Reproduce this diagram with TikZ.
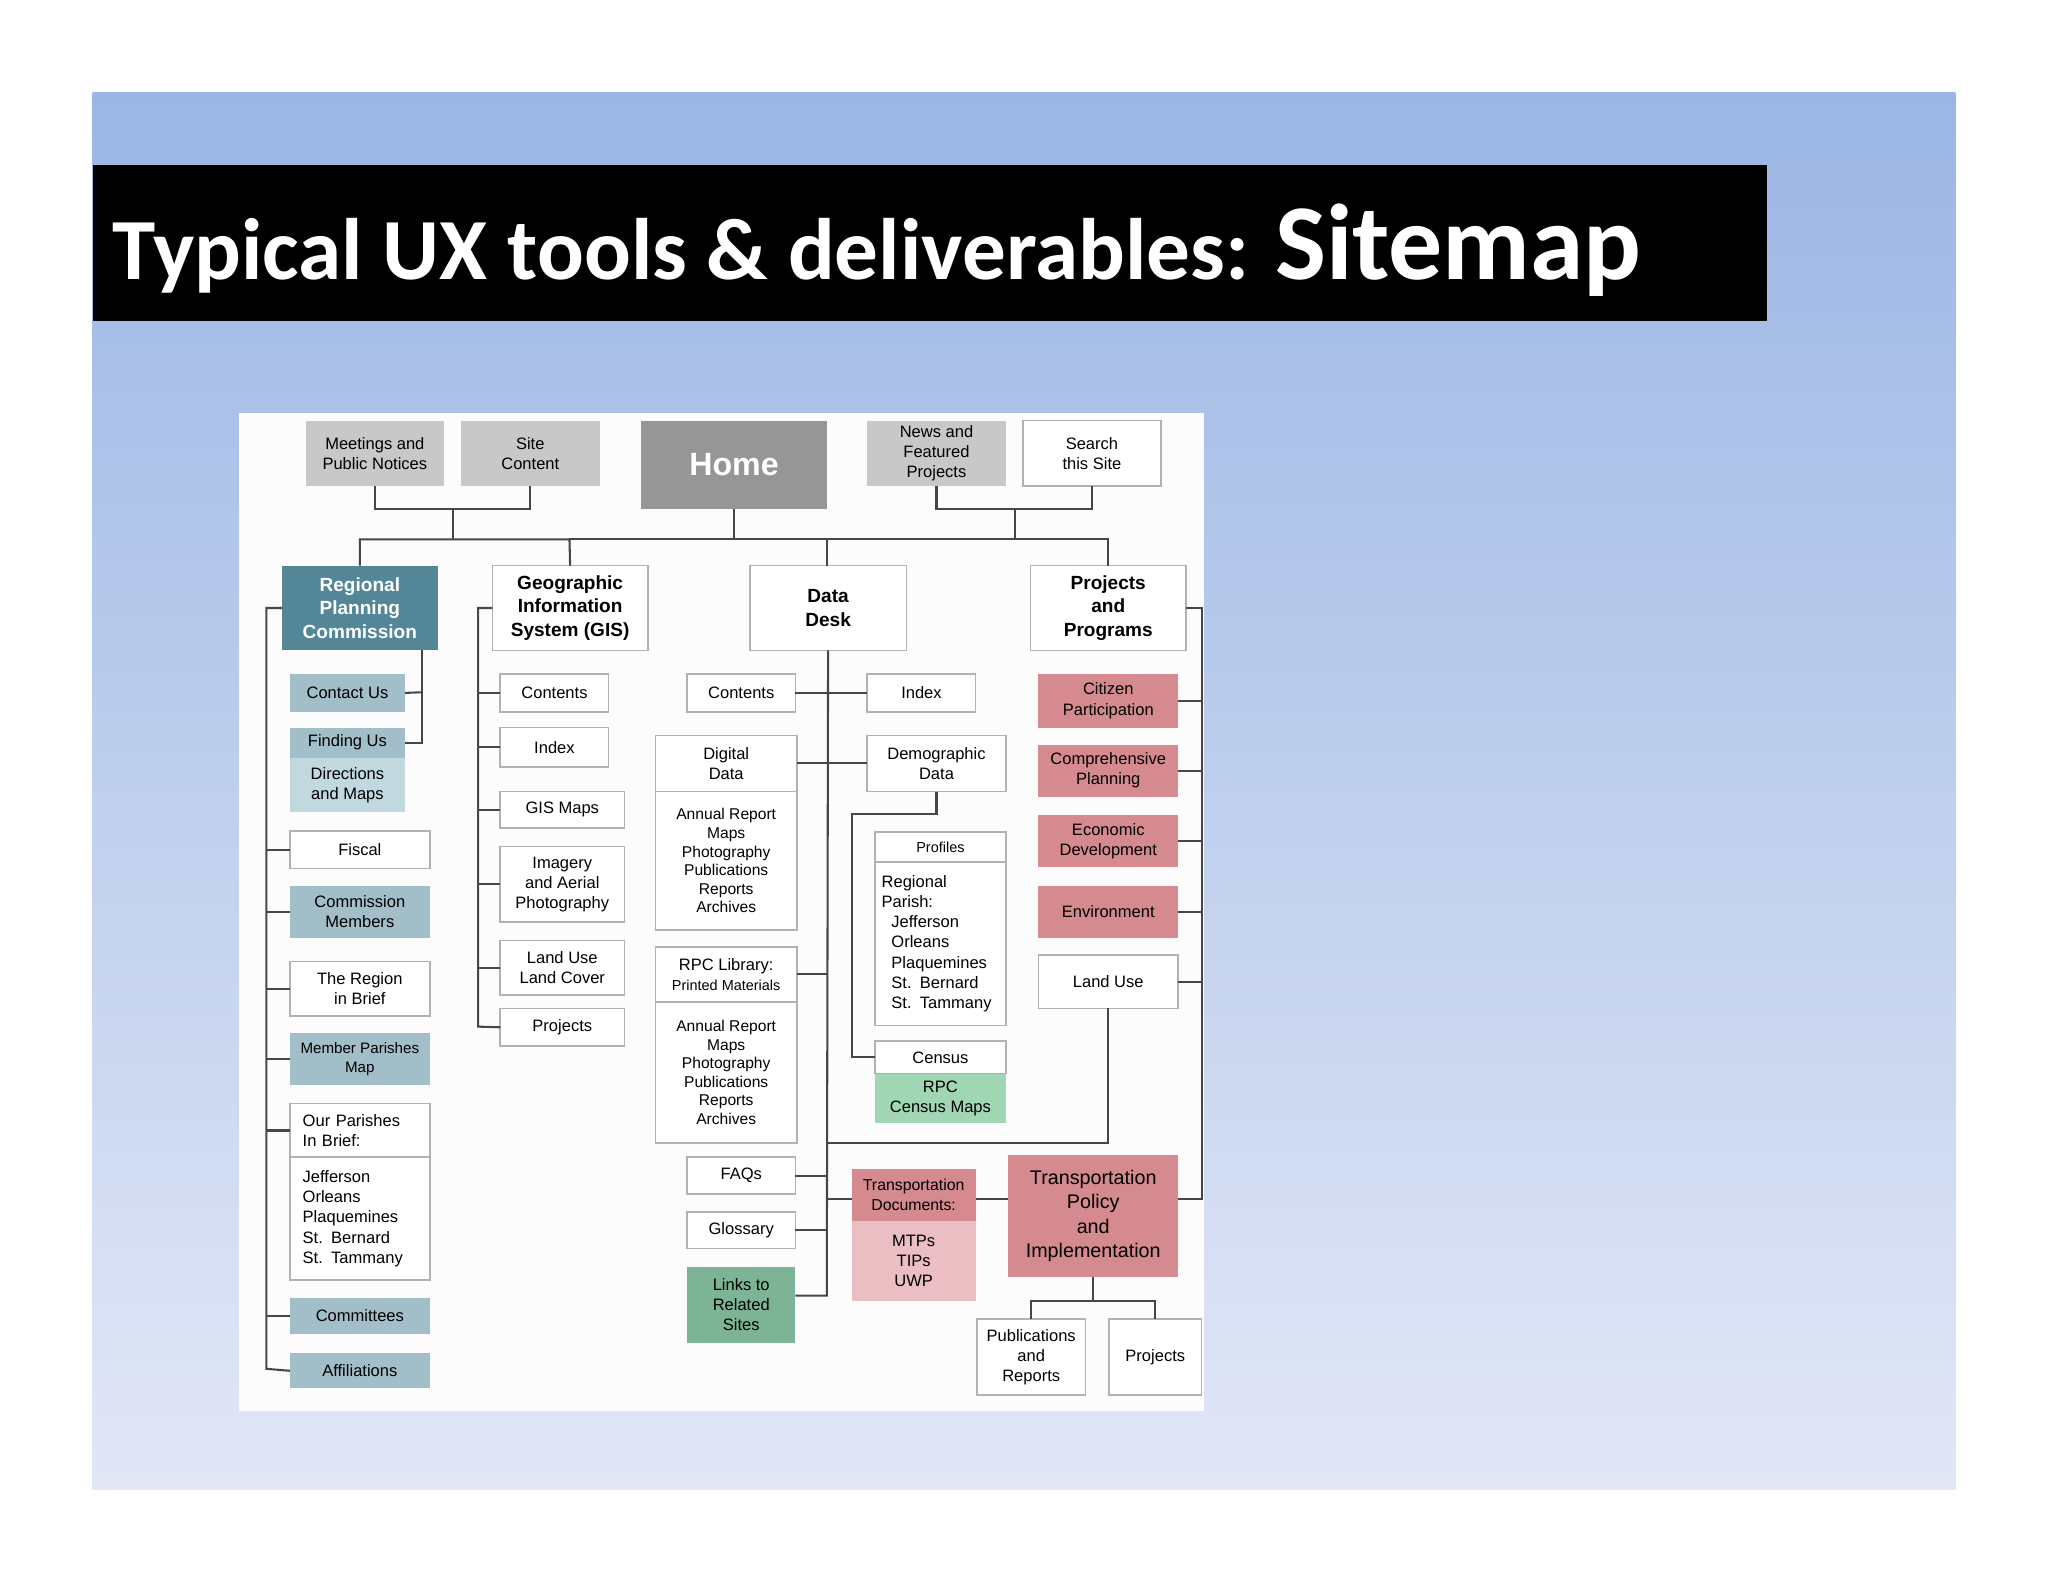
\documentclass[tikz,border=0pt]{standalone}
\usepackage{fontspec}
\setmainfont{Liberation Sans}
\newfontfamily\titlefont{Carlito}
\definecolor{rpcdark}{RGB}{83,134,150}
\definecolor{tealmid}{RGB}{162,190,200}
\definecolor{teallight}{RGB}{192,216,222}
\definecolor{pinkd}{RGB}{212,138,142}
\definecolor{pinkl}{RGB}{234,190,194}
\definecolor{greenl}{RGB}{160,214,180}
\definecolor{greend}{RGB}{125,180,150}
\definecolor{grayl}{RGB}{200,200,200}
\definecolor{homeg}{RGB}{150,150,150}
\definecolor{bgtop}{RGB}{155,182,228}
\definecolor{bgbot}{RGB}{226,231,246}
\definecolor{lin}{RGB}{70,70,70}
\newcommand\bx[7]{\node[#6,minimum width={(#4-#2)*0.02cm},minimum height={(#5-#3)*0.02cm}] (#1) at ({(#2+#4)/2},{(#3+#5)/2}) {#7};}
\tikzset{
 base/.style={inner sep=0pt,outer sep=0pt,align=center,font=\fontsize{7.2}{8.8}\selectfont,draw=gray!60,line width=0.7pt},
 wbox/.style={base,fill=white},
 hbox/.style={base,fill=white,font=\fontsize{8.3}{10.3}\selectfont\bfseries},
 tbox/.style={base,fill=tealmid,draw=none},
 tlbox/.style={base,fill=teallight,draw=none},
 pbox/.style={base,fill=pinkd,draw=none},
 plbox/.style={base,fill=pinkl,draw=none},
 gbox/.style={base,fill=grayl,draw=none},
 conn/.style={draw=lin,line width=0.9pt},
}
\begin{document}
\begin{tikzpicture}[x=0.02cm,y=-0.02cm]
\useasboundingbox (0,0) rectangle (1568,1211);
\fill[white] (0,0) rectangle (1568,1211);
\shade[top color=bgtop,bottom color=bgbot] (71,71) rectangle (1497,1140);
\fill[black] (71,126) rectangle (1353,246);
\node[anchor=base west,text=white,inner sep=0pt,font=\titlefont\bfseries\fontsize{38}{44}\selectfont] (title) at (86,214) {Typical UX tools \& deliverables: {\fontsize{47}{52}\selectfont Sitemap}};
\fill[white!98!gray] (183,316) rectangle (922,1080);
% top row
\bx{meet}{234}{322}{340}{372}{gbox}{Meetings and\\Public Notices}
\bx{site}{353}{322}{459}{372}{gbox}{Site\\Content}
\bx{home}{491}{322}{633}{390}{base,fill=homeg,draw=none,text=white,font=\fontsize{14}{17}\selectfont\bfseries}{Home}
\bx{news}{664}{322}{770}{372}{gbox}{News and\\Featured\\Projects}
\bx{search}{783}{322}{889}{372}{wbox}{Search\\this Site}
% level 1
\bx{rpc}{216}{433}{335}{498}{base,fill=rpcdark,draw=none,text=white,font=\fontsize{8.3}{10.3}\selectfont\bfseries}{Regional\\Planning\\Commission}
\bx{gis}{377}{433}{496}{498}{hbox}{Geographic\\Information\\System (GIS)}
\bx{dd}{574}{433}{694}{498}{hbox}{Data\\Desk}
\bx{pp}{789}{433}{908}{498}{hbox}{Projects\\and\\Programs}
\coordinate (j1) at (347,390);
\coordinate (j2) at (777,390);
\draw[conn] (meet.south) |- (j1) -| (site.south);
\draw[conn] (news.south) |- (j2) -| (search.south);
\draw[conn] (j1) -- (347,413);
\draw[conn] (j2) -- (777,413);
\draw[conn] (home.south) -- (562,413);
\draw[conn] (rpc.north) |- (436,413) -- (gis.north);
\draw[conn] (436,413) -| (633,433);
\draw[conn] (633,413) -| (pp.north);
% column 1
\bx{contact}{222}{516}{310}{545}{tbox}{Contact Us}
\bx{finding}{222}{557}{310}{580}{tbox}{Finding Us}
\bx{dirs}{222}{580}{310}{622}{tlbox}{Directions\\and Maps}
\bx{fiscal}{222}{636}{329}{665}{wbox}{Fiscal}
\bx{comm}{222}{678}{329}{718}{tbox}{Commission\\Members}
\bx{region}{222}{736}{329}{778}{wbox}{The Region\\in Brief}
\bx{mpm}{222}{791}{329}{831}{tbox,font=\fontsize{6.6}{8.4}\selectfont}{Member Parishes\\Map}
\bx{ourp}{222}{845}{329}{886}{wbox,align=left,text width=1.75cm}{Our Parishes\\In Brief:}
\bx{ourpl}{222}{886}{329}{980}{wbox,align=left,text width=1.75cm}{Jefferson\\Orleans\\Plaquemines\\St. Bernard\\St. Tammany}
\bx{cmt}{222}{994}{329}{1021}{tbox}{Committees}
\bx{aff}{222}{1036}{329}{1063}{tbox}{Affiliations}
\draw[conn] (323,498) |- (finding.east);
\draw[conn] (contact.east) -- (323,530);
\draw[conn] (rpc.west) -| (204,1048) -- (aff.west);
\foreach \n in {fiscal,comm,region,mpm,cmt} \draw[conn] (\n.west) -- ++(-18,0);
\draw[conn] (ourp.west) -- ++(-18,0);
% column 2
\bx{gc}{383}{516}{466}{545}{wbox}{Contents}
\bx{gi}{383}{557}{466}{587}{wbox}{Index}
\bx{gm}{383}{606}{478}{634}{wbox}{GIS Maps}
\bx{gim}{383}{648}{478}{706}{wbox}{Imagery\\and Aerial\\Photography}
\bx{glu}{383}{720}{478}{762}{wbox}{Land Use\\Land Cover}
\bx{gp}{383}{772}{478}{801}{wbox}{Projects}
\draw[conn] (gis.west) -| (366,786) -- (gp.west);
\foreach \n in {gc,gi,gm,gim,glu} \draw[conn] (\n.west) -- ++(-17,0);
% column 3
\bx{dc}{526}{516}{609}{545}{wbox}{Contents}
\bx{di}{664}{516}{747}{545}{wbox}{Index}
\bx{ddat}{502}{563}{610}{606}{wbox}{Digital\\Data}
\bx{ddl}{502}{606}{610}{712}{wbox,font=\fontsize{6.8}{8.1}\selectfont}{Annual Report\\Maps\\Photography\\Publications\\Reports\\Archives}
\bx{demo}{664}{563}{770}{606}{wbox}{Demographic\\Data}
\bx{prof}{670}{637}{770}{660}{wbox,font=\fontsize{6.3}{8}\selectfont}{Profiles}
\bx{regp}{670}{660}{770}{785}{wbox,align=left,text width=1.8cm}{Regional\\Parish:\\\hspace*{0.15cm}Jefferson\\\hspace*{0.15cm}Orleans\\\hspace*{0.15cm}Plaquemines\\\hspace*{0.15cm}St. Bernard\\\hspace*{0.15cm}St. Tammany}
\bx{cens}{670}{797}{770}{822}{wbox}{Census}
\bx{rcm}{670}{822}{770}{860}{base,fill=greenl,draw=none}{RPC\\Census Maps}
\bx{lib}{502}{725}{610}{767}{wbox}{RPC Library:\\{\fontsize{6.3}{8}\selectfont Printed Materials}}
\bx{libl}{502}{767}{610}{875}{wbox,font=\fontsize{6.8}{8.1}\selectfont}{Annual Report\\Maps\\Photography\\Publications\\Reports\\Archives}
\bx{faq}{526}{886}{609}{914}{wbox}{FAQs}
\bx{glo}{526}{928}{609}{956}{wbox}{Glossary}
\bx{links}{526}{970}{609}{1028}{base,fill=greend,draw=none}{Links to\\Related\\Sites}
\draw[conn] (dd.south) -- (633,992) -- (links.east |- 633,992);
\draw[conn] (dc.east) -- (di.west);
\draw[conn] (ddat.east |- demo.west) -- (demo.west);
\draw[conn] (lib.east) -- (lib.east -| dd.south);
\draw[conn] (faq.east) -- (faq.east -| dd.south);
\draw[conn] (glo.east) -- (glo.east -| dd.south);
\draw[conn] (demo.south) |- (652,623) |- (cens.west);
% column 4
\bx{cit}{795}{516}{902}{557}{pbox}{Citizen\\Participation}
\bx{cmp}{795}{570}{902}{610}{pbox}{Comprehensive\\Planning}
\bx{eco}{795}{624}{902}{664}{pbox}{Economic\\Development}
\bx{env}{795}{678}{902}{718}{pbox}{Environment}
\bx{lu}{795}{731}{902}{772}{wbox}{Land Use}
\bx{tpi}{772}{884}{902}{978}{pbox,font=\fontsize{8.6}{10.6}\selectfont}{Transportation\\Policy\\and\\Implementation}
\bx{tdoc}{652}{895}{747}{935}{pbox,font=\fontsize{6.9}{8.6}\selectfont}{Transportation\\Documents:}
\bx{tdl}{652}{935}{747}{996}{plbox}{MTPs\\TIPs\\UWP}
\bx{pub}{748}{1010}{831}{1068}{wbox}{Publications\\and\\Reports}
\bx{proj}{849}{1010}{920}{1068}{wbox}{Projects}
\draw[conn] (pp.east) -| (920,918) -- (902,918);
\foreach \n in {cit,cmp,eco,env,lu} \draw[conn] (\n.east) -- ++(18,0);
\draw[conn] (lu.south) |- (633,875);
\draw[conn] (633,918) -- (652,918);
\draw[conn] (747,918) -- (772,918);
\draw[conn] (tpi.south) -- (837,996);
\draw[conn] (pub.north) |- (837,996) -| (proj.north);
\end{tikzpicture}
\end{document}
